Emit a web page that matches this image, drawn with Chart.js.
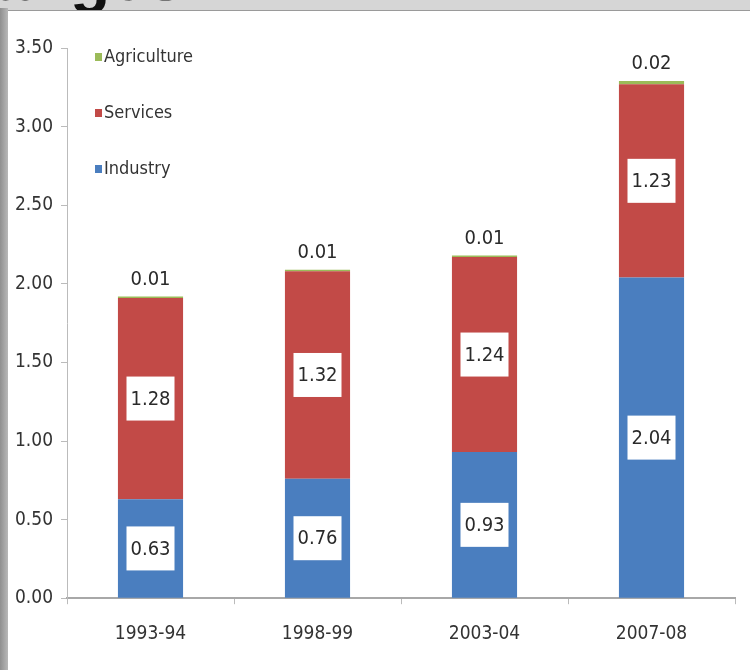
<!DOCTYPE html>
<html>
<head>
<meta charset="utf-8">
<script src="https://cdn.jsdelivr.net/npm/chart.js@4.4.1/dist/chart.umd.min.js"></script>
<style>
  html, body { margin: 0; padding: 0; }
  body { width: 750px; height: 670px; position: relative; overflow: hidden; background: #d6d6d6; }
  #title { position: absolute; left: -95px; top: -61px; font: bold 66px "Liberation Sans", Arial, sans-serif; color: #111; white-space: nowrap; }
  #leftBar { position: absolute; left: 0; top: 8px; width: 8px; height: 662px; background: linear-gradient(to right, #8f8f8f, #b8b8b8); }
  #panel { position: absolute; left: 8px; top: 10px; width: 742px; height: 660px; background: #fff; border-top: 1px solid #9a9a9a; }
</style>
</head>
<body>
<div id="title">Changes</div>
<div id="leftBar"></div>
<div id="panel"><canvas id="stackChart" width="742" height="660"></canvas></div>
<script>
// values
const years = ['1993-94', '1998-99', '2003-04', '2007-08'];
const industry = [0.63, 0.76, 0.93, 2.04];
const services = [1.28, 1.32, 1.24, 1.23];
const agriculture = [0.01, 0.01, 0.01, 0.02];
const yTicks = [0, 0.5, 1, 1.5, 2, 2.5, 3, 3.5];

const FONT = '"DejaVu Sans Condensed", "Liberation Sans Narrow", sans-serif';

// value labels: boxed in the middle for industry/services, plain above the bar for agriculture
const valueLabels = {
    id: 'valueLabels',
    afterDatasetsDraw(chart) {
        const ctx = chart.ctx;
        ctx.save();
        ctx.font = '20px ' + FONT;
        ctx.textAlign = 'center';
        ctx.textBaseline = 'middle';
        chart.data.datasets.forEach((ds, di) => {
            const meta = chart.getDatasetMeta(di);
            meta.data.forEach((bar, i) => {
                const txt = ds.data[i].toFixed(2);
                if (ds.label === 'Agriculture') {
                    ctx.fillStyle = '#2a2a2a';
                    ctx.fillText(txt, bar.x, bar.y - 17);
                    return;
                }
                const cy = (bar.y + bar.base) / 2;
                const w = 48;
                const h = 44;
                ctx.fillStyle = '#fff';
                ctx.fillRect(bar.x - w / 2, cy - h / 2, w, h);
                ctx.fillStyle = '#2a2a2a';
                ctx.fillText(txt, bar.x, cy + 1);
            });
        });
        ctx.restore();
    }
};

// legend stacked in the top-left corner of the plot
const cornerLegend = {
    id: 'cornerLegend',
    afterDraw(chart) {
        const ctx = chart.ctx;
        const area = chart.chartArea;
        const order = ['Agriculture', 'Services', 'Industry'];
        ctx.save();
        ctx.font = '18px ' + FONT;
        ctx.textBaseline = 'middle';
        order.forEach((name, k) => {
            const ds = chart.data.datasets.find(d => d.label === name);
            const y = area.top + 9 + k * 56;
            ctx.fillStyle = ds.backgroundColor;
            ctx.fillRect(area.left + 28, y - 4, 7, 8);
            ctx.fillStyle = '#333';
            ctx.fillText(name, area.left + 37, y);
        });
        ctx.restore();
    }
};

const ctx = document.getElementById('stackChart').getContext('2d');
new Chart(ctx, {
    type: 'bar',
    data: {
        labels: years,
        datasets: [
            { label: 'Industry', data: industry, backgroundColor: '#4a7ebf' },
            { label: 'Services', data: services, backgroundColor: '#c24a47' },
            { label: 'Agriculture', data: agriculture, backgroundColor: '#9bbb59' }
        ]
    },
    options: {
        responsive: false,
        animation: false,
        layout: { padding: { top: 37, right: 15, left: 0, bottom: 8 } },
        categoryPercentage: 1,
        barPercentage: 0.39,
        plugins: {
            legend: { display: false },
            tooltip: { enabled: false }
        },
        scales: {
            x: {
                stacked: true,
                grid: { offset: true, drawOnChartArea: false, tickLength: 6, color: '#bbb' },
                border: { color: '#a8a8a8', width: 2 },
                ticks: { color: '#333', font: { family: FONT, size: 19 }, padding: 18 }
            },
            y: {
                stacked: true,
                min: 0,
                max: 3.5,
                afterBuildTicks: axis => { axis.ticks = yTicks.map(v => ({ value: v })); },
                afterFit: axis => { axis.width = 59; },
                grid: { drawOnChartArea: false, tickLength: 6, color: '#bbb' },
                border: { color: '#bbb' },
                ticks: {
                    color: '#333',
                    font: { family: FONT, size: 19 },
                    padding: 8,
                    callback: v => v.toFixed(2)
                }
            }
        }
    },
    plugins: [valueLabels, cornerLegend]
});
</script>
</body>
</html>
